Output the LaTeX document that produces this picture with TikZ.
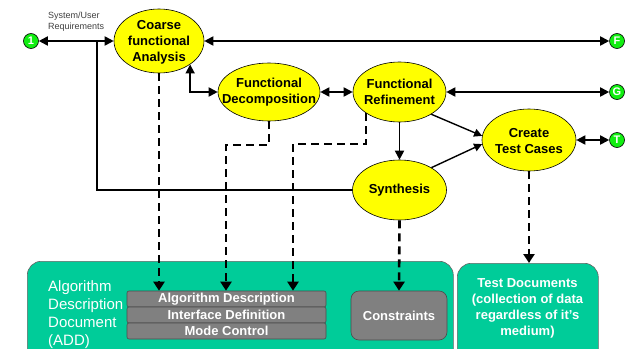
\documentclass[tikz,border=0pt]{standalone}
\usepackage{fontspec}
\setmainfont{Liberation Sans}
\usetikzlibrary{arrows.meta,shapes.geometric,calc}
\definecolor{ylw}{HTML}{FFFF00}
\definecolor{tealbox}{HTML}{00CC99}
\definecolor{grn}{HTML}{11EE11}
\definecolor{gry}{HTML}{808080}
\definecolor{reqgray}{HTML}{404040}
\begin{document}
\begin{tikzpicture}[x=1pt,y=-1pt,
  >={Triangle[width=9pt,length=9pt]},
  ell/.style={ellipse, draw=black, line width=0.6pt, fill=ylw, inner sep=0pt},
  etxt/.style={font=\fontsize{13}{16}\selectfont\bfseries, align=center, inner sep=0pt},
  circ/.style={circle, draw=black, line width=0.6pt, fill=grn, minimum size=15pt, inner sep=0pt,
               font=\fontsize{11}{11}\selectfont\bfseries, text=white},
  conn/.style={line width=1.8pt},
  thinarr/.style={line width=1.4pt, -{Triangle[width=8pt,length=8pt]}},
  dsh/.style={line width=2.6pt, dash pattern=on 8pt off 5pt, -{Triangle[width=11pt,length=9pt]}},
  bigbox/.style={draw=black!60, line width=0.6pt, fill=tealbox, rounded corners=14pt, inner sep=0pt, anchor=north west},
  item/.style={draw=black!70, line width=0.6pt, fill=gry, rounded corners=2pt, minimum width=199pt,
               minimum height=16pt, inner sep=0pt, text=white, font=\fontsize{13}{13}\selectfont\bfseries},
  wtxt/.style={text=white, inner sep=0pt}
]
\useasboundingbox (0,0) rectangle (629,348);
\clip (0,0) rectangle (629,348);

% bottom boxes
\node[bigbox, minimum width=426pt, minimum height=110pt] (add) at (27,261) {};
\node[bigbox, minimum width=141pt, minimum height=100pt] (tdoc) at (457,263) {};
\node[wtxt, anchor=north west, align=left, font=\fontsize{15}{18.3}\selectfont] (addt) at (48,280)
  {Algorithm\\Description\\Document\\(ADD)};
\node[wtxt, align=center, font=\fontsize{13}{16}\selectfont\bfseries] (tdoct) at (527.5,308)
  {Test Documents\\(collection of data\\regardless of it’s\\medium)};
\node[item] (alg) at (226.5,299) {Algorithm Description};
\node[item] (intf) at (226.5,315) {Interface Definition};
\node[item] (mode) at (226.5,331) {Mode Control};
\node[draw=black!70, line width=0.6pt, fill=gry, rounded corners=8pt, minimum width=96pt, minimum height=49pt,
      inner sep=0pt, text=white, font=\fontsize{13}{13}\selectfont\bfseries] (cons) at (399,315.5) {Constraints};

% ellipses
\node[ell, minimum width=90pt, minimum height=64pt] (coarse) at (159,41) {};
\node[etxt] (coarset) at (159,42) {Coarse\\functional\\Analysis};
\node[ell, minimum width=102pt, minimum height=58pt] (dec) at (269,92) {};
\node[etxt] (dect) at (269,92) {Functional\\Decomposition};
\node[ell, minimum width=93pt, minimum height=60pt] (ref) at (399.5,92) {};
\node[etxt] (reft) at (399.5,92) {Functional\\Refinement};
\node[ell, minimum width=94pt, minimum height=60pt] (synth) at (399.5,190) {};
\node[etxt] (syntht) at (399.5,190) {Synthesis};
\node[ell, minimum width=94pt, minimum height=62pt] (create) at (529,140) {};
\node[etxt] (createt) at (529,141) {Create\\Test Cases};

% circles
\node[circ] (c1) at (31,41) {1};
\node[circ] (cF) at (617,41) {F};
\node[circ] (cG) at (617,92) {G};
\node[circ] (cT) at (617,140) {T};

% requirements label
\node[anchor=north west, inner sep=0pt, align=left, text=reqgray, font=\fontsize{9}{11}\selectfont] (req) at (48,12)
  {System/User\\Requirements};

% solid connectors
\coordinate (j1) at (97,41);
\draw[conn,<->] (c1) -- (coarse);
\draw[conn] (j1) |- (synth);
\draw[conn,<->] (coarse) -- (cF);
\draw[conn,<->] (coarse.-37) |- (dec.west);
\draw[conn,<->] (dec) -- (ref);
\draw[conn,<->] (ref) -- (cG);
\draw[conn,->] (ref) -- (synth);
\draw[thinarr] (ref.-35) -- (create.175);
\draw[thinarr] (synth.35) -- (create.185);
\draw[conn,<->] (create) -- (cT);

% dashed connectors
\coordinate (d1) at (226,145);
\coordinate (r1) at (293,144);
\draw[dsh] (coarse.south) -- (coarse.south |- alg.north);
\draw[dsh] (dec.south) |- (d1) -- (d1 |- alg.north);
\draw[dsh] (ref.-148) |- (r1) -- (r1 |- alg.north);
\draw[dsh] (synth.south) -- (cons.north);
\draw[dsh] (create.south) -- (create.south |- tdoc.north);
\end{tikzpicture}
\end{document}
